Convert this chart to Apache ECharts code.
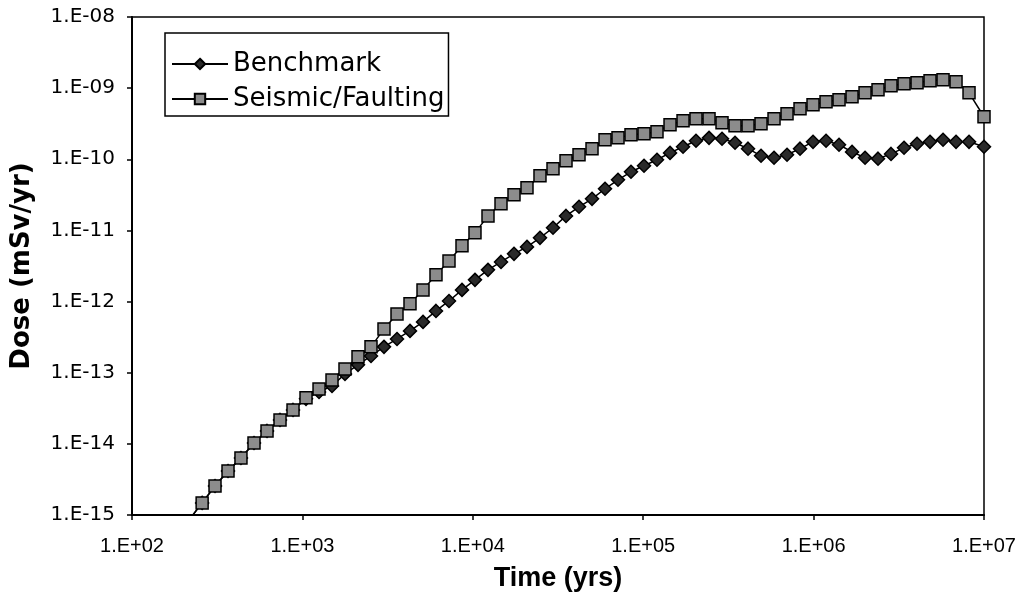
<!DOCTYPE html>
<html>
<head>
<meta charset="utf-8">
<script src="https://cdn.jsdelivr.net/npm/echarts@6/dist/echarts.min.js"></script>
<style>
html,body{margin:0;padding:0;background:#fff;}
#chart{width:1024px;height:601px;}
</style>
</head>
<body>
<div id="chart"></div>
<script>
// Time (yrs)
var timeYears = [216, 258, 307, 366, 436, 520, 620, 739, 881, 1050, 1252, 1492, 1778, 2120, 2527, 3012, 3591, 4280, 5103, 6081, 7250,
  8642, 10300, 12280, 14640, 17450, 20800, 24790, 29560, 35240, 42010, 50080, 59690, 71140, 84800, 101100, 120500,
  143700, 171300, 204100, 243400, 290100, 345800, 412300, 491400, 585800, 698300, 832400, 992200, 1183000, 1410000,
  1681000, 2004000, 2388000, 2847000, 3394000, 4046000, 4823000, 5749000, 6853000, 8168000, 10000000];

// Dose (mSv/yr)
var benchmarkDose = [8.5e-16, 1.48e-15, 2.56e-15, 4.16e-15, 6.34e-15, 1.03e-14, 1.52e-14, 2.17e-14, 3.0e-14, 4.29e-14, 5.37e-14,
  6.51e-14, 9.62e-14, 1.29e-13, 1.72e-13, 2.31e-13, 2.98e-13, 3.87e-13, 5.18e-13, 7.39e-13, 1.02e-12,
  1.46e-12, 2.02e-12, 2.79e-12, 3.61e-12, 4.69e-12, 5.87e-12, 7.87e-12, 1.09e-11, 1.60e-11, 2.15e-11,
  2.78e-11, 3.85e-11, 5.15e-11, 6.67e-11, 8.11e-11, 9.84e-11, 1.23e-10, 1.50e-10, 1.82e-10, 2.0e-10,
  1.94e-10, 1.71e-10, 1.41e-10, 1.12e-10, 1.05e-10, 1.16e-10, 1.41e-10, 1.76e-10, 1.82e-10, 1.60e-10,
  1.27e-10, 1.05e-10, 1.02e-10, 1.19e-10, 1.45e-10, 1.65e-10, 1.76e-10, 1.88e-10, 1.76e-10, 1.76e-10, 1.50e-10];

var seismicDose = [8.5e-16, 1.48e-15, 2.56e-15, 4.16e-15, 6.34e-15, 1.03e-14, 1.52e-14, 2.17e-14, 3.0e-14, 4.43e-14, 5.92e-14,
  7.93e-14, 1.13e-13, 1.67e-13, 2.31e-13, 4.13e-13, 6.71e-13, 9.29e-13, 1.46e-12, 2.38e-12, 3.73e-12,
  6.07e-12, 9.25e-12, 1.60e-11, 2.37e-11, 3.17e-11, 3.97e-11, 5.86e-11, 7.34e-11, 9.53e-11, 1.16e-10,
  1.41e-10, 1.88e-10, 2.0e-10, 2.21e-10, 2.29e-10, 2.44e-10, 3.05e-10, 3.48e-10, 3.72e-10, 3.72e-10,
  3.26e-10, 2.96e-10, 2.96e-10, 3.15e-10, 3.72e-10, 4.37e-10, 5.13e-10, 5.85e-10, 6.44e-10, 6.87e-10,
  7.57e-10, 8.61e-10, 9.48e-10, 1.08e-9, 1.15e-9, 1.19e-9, 1.27e-9, 1.31e-9, 1.23e-9, 8.6e-10, 3.96e-10];

var seriesNames = ['Benchmark', 'Seismic/Faulting'];
var xTickLabels = ['1.E+02', '1.E+03', '1.E+04', '1.E+05', '1.E+06', '1.E+07'];
var yTickLabels = ['1.E-15', '1.E-14', '1.E-13', '1.E-12', '1.E-11', '1.E-10', '1.E-09', '1.E-08'];
var xTitle = 'Time (yrs)';
var yTitle = 'Dose (mSv/yr)';

function pairs(xs, ys) {
  var out = [];
  for (var i = 0; i < xs.length; i++) out.push([xs[i], ys[i]]);
  return out;
}
var FONT = "'Liberation Sans', Arial, sans-serif";
var WIDE = "'DejaVu Sans', sans-serif";

var chart = echarts.init(document.getElementById('chart'), null, {renderer: 'canvas'});
chart.setOption({
  backgroundColor: '#ffffff',
  animation: false,
  grid: {left: 132, right: 40, top: 17, bottom: 86, show: true, borderColor: '#000', borderWidth: 1.5, backgroundColor: 'transparent'},
  legend: {
    left: 165, top: 33, orient: 'vertical',
    backgroundColor: '#fff', borderColor: '#000', borderWidth: 1.5,
    padding: [18, 4, 4, 6], itemGap: 9, itemWidth: 56, itemHeight: 13,
    textStyle: {fontFamily: WIDE, fontSize: 26, color: '#000'},
    data: seriesNames
  },
  xAxis: {
    type: 'log', logBase: 10, min: 100, max: 1e7, splitNumber: 5,
    name: xTitle, nameLocation: 'middle', nameGap: 50,
    nameTextStyle: {fontFamily: FONT, fontSize: 27, fontWeight: 'bold', color: '#000'},
    axisLine: {lineStyle: {color: '#000', width: 2}},
    axisTick: {show: true, inside: false, length: 5, lineStyle: {color: '#000', width: 1.5}},
    minorTick: {show: false},
    splitLine: {show: false},
    axisLabel: {fontFamily: FONT, fontSize: 20, color: '#000', margin: 21,
      formatter: function (v) { var e = Math.round(Math.log10(v)); return xTickLabels[e - 2]; }}
  },
  yAxis: {
    type: 'log', logBase: 10, min: 1e-15, max: 1e-8, splitNumber: 7,
    name: yTitle, nameLocation: 'middle', nameGap: 97, nameRotate: 90,
    nameTextStyle: {fontFamily: WIDE, fontSize: 26, fontWeight: 'bold', color: '#000', padding: [0, 0, 0, 0]},
    axisLine: {lineStyle: {color: '#000', width: 2}},
    axisTick: {show: true, inside: false, length: 5, lineStyle: {color: '#000', width: 1.5}},
    splitLine: {show: false},
    axisLabel: {fontFamily: WIDE, fontSize: 20, color: '#000', margin: 17,
      formatter: function (v) { var e = Math.round(Math.log10(v)); return yTickLabels[e + 15]; }}
  },
  series: [
    {
      name: seriesNames[0], type: 'line', data: pairs(timeYears, benchmarkDose), clip: true,
      symbol: 'diamond', symbolSize: 13, showAllSymbol: true,
      lineStyle: {color: '#000', width: 1.5},
      itemStyle: {color: '#2a2a2a', borderColor: '#000', borderWidth: 1.5},
      z: 2
    },
    {
      name: seriesNames[1], type: 'line', data: pairs(timeYears, seismicDose), clip: true,
      symbol: 'rect', symbolSize: 12, showAllSymbol: true,
      lineStyle: {color: '#000', width: 1.5},
      itemStyle: {color: '#8c8c8c', borderColor: '#000', borderWidth: 1.5},
      z: 3
    }
  ]
});
</script>
</body>
</html>
